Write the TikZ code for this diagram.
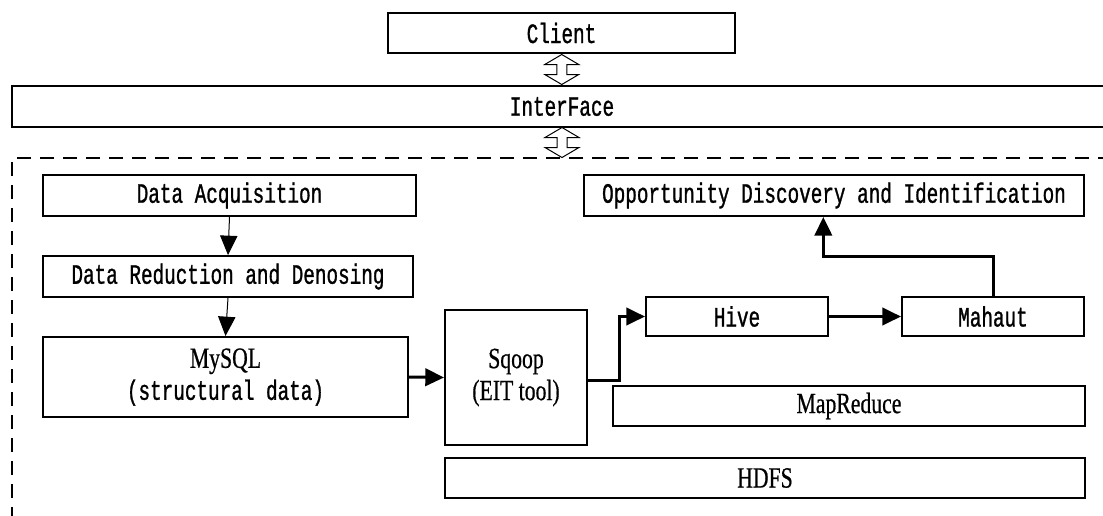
\documentclass[tikz,border=0pt]{standalone}
\usepackage{fontspec}
\usepackage{tikz}
\usetikzlibrary{arrows.meta,calc,positioning}
\newfontfamily\monofont[FakeStretch=0.69, FakeBold=1]{Liberation Mono}
\newfontfamily\serifont[FakeStretch=0.74, FakeBold=0.6]{Liberation Serif}
\newcommand{\px}{0.75pt}

\begin{document}
\begin{tikzpicture}[x=0.75pt, y=-0.75pt,
  box/.style={draw, line width=1.5pt, inner sep=0pt, align=center,
    font=\monofont\fontsize{21}{24}\selectfont},
  serifbox/.style={box, font=\serifont\fontsize{22}{24}\selectfont},
  dashbox/.style={draw, line width=1.5pt, dash pattern=on 10.5pt off 6.75pt, inner sep=0pt},
  thinarr/.style={line width=0.75pt, -{Triangle[length=14.5pt, width=13pt]}},
  thickarr/.style={line width=2.25pt, -{Triangle[length=14pt, width=13pt]}},
  updown/.pic={
    \draw[line width=0.75pt, fill=white] (0,-15) -- (-17,-5) -- (-5,-5) -- (-5,5) -- (-17,5)
      -- (0,15) -- (17,5) -- (5,5) -- (5,-5) -- (17,-5) -- cycle;
  }]
\clip (0,0) rectangle (1103,515);

% top layers
\node[box, minimum width=347*\px, minimum height=40*\px] (client) at (561.5,33) {Client};
\node[box, minimum width=1100*\px, minimum height=41*\px] (iface) at (562,106.5) {InterFace};
\node[dashbox, minimum width=1100*\px, minimum height=372*\px] (core) at (562,344) {};

\pic at ($(client.south)!0.5!(iface.north)$) {updown};
\pic at ($(iface.south)!0.5!(core.north)$) {updown};

% left column
\node[box, minimum width=373*\px, minimum height=41*\px] (acq) at (229.5,195.5) {Data Acquisition};
\node[box, minimum width=370*\px, minimum height=41*\px] (reduce) at (228,276.5) {Data Reduction and Denosing};
\node[box, minimum width=365*\px, minimum height=80*\px] (mysql) at (225.5,377) {{\serifont\fontsize{22}{24}\selectfont MySQL}\\(structural data)};

% middle and right
\node[serifbox, minimum width=142*\px, minimum height=135*\px] (sqoop) at (516,377.5) {Sqoop\\(EIT tool)};
\node[box, minimum width=182*\px, minimum height=39*\px] (hive) at (737,316.5) {Hive};
\node[box, minimum width=182*\px, minimum height=39*\px] (mahaut) at (993,316.5) {Mahaut};
\node[box, minimum width=500*\px, minimum height=41*\px] (opp) at (834,195.5) {Opportunity Discovery and Identification};
\node[serifbox, minimum width=472*\px, minimum height=40*\px] (mapred) at (849,406) {MapReduce};
\node[serifbox, minimum width=640*\px, minimum height=40*\px] (hdfs) at (765,478) {HDFS};

% connectors
\draw[thinarr] (acq.south) -- (reduce.north);
\draw[thinarr] (reduce.south) -- (mysql.north);
\draw[thickarr] (mysql.east) -- (sqoop.west);
\draw[thickarr] ([yshift=-2]sqoop.east) -- ++(31,0) |- (hive.west);
\draw[thickarr] (hive.east) -- (mahaut.west);
\draw[thickarr] (mahaut.north) -- ++(0,-40) -| ([xshift=-8]opp.south);

\end{tikzpicture}
\end{document}
